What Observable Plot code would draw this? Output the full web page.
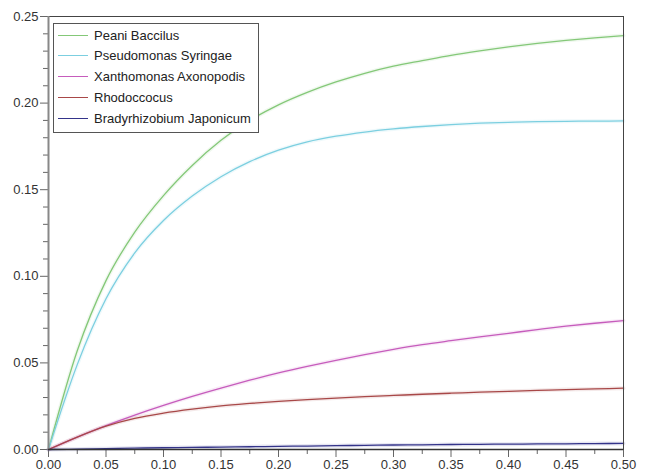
<!DOCTYPE html>
<html>
<head>
<meta charset="utf-8">
<script src="https://cdn.jsdelivr.net/npm/d3@7"></script>
<script src="https://cdn.jsdelivr.net/npm/@observablehq/plot@0.6"></script>
<style>
  body { margin: 0; background: #fff; }
  #wrap { position: relative; width: 647px; height: 472px; font-family: "Liberation Sans", Arial, sans-serif; }
  #legend { position: absolute; left: 53px; top: 23px; width: 206px; height: 110px; border: 1px solid #555; background: #fff; box-sizing: border-box; }
  .row { position: absolute; left: 0; height: 16px; display: flex; align-items: center; font-size: 13px; color: #222; white-space: nowrap; }
  .sw { display: inline-block; width: 30px; height: 0; border-top: 1.5px solid; margin-left: 4px; margin-right: 6px; }
</style>
</head>
<body>
<div id="wrap"><div id="chart"></div><div id="legend"></div></div>
<script>
const xs = [0, 0.025, 0.05, 0.075, 0.1, 0.125, 0.15, 0.175, 0.2, 0.225, 0.25, 0.275, 0.3, 0.325, 0.35, 0.375, 0.4, 0.425, 0.45, 0.475, 0.5];

const seriesNames = ["Peani Baccilus", "Pseudomonas Syringae", "Xanthomonas Axonopodis", "Rhodoccocus", "Bradyrhizobium Japonicum"];
const seriesColors = ["#84c878", "#7ccfe0", "#c65cbc", "#a84848", "#34348a"];

const peani = [0, 0.057, 0.0975, 0.1255, 0.1466, 0.1640, 0.1785, 0.1900, 0.1990, 0.2062, 0.2122, 0.2172, 0.2213, 0.2245, 0.2276, 0.2302, 0.2325, 0.2345, 0.2362, 0.2377, 0.2390];
const pseudomonas = [0, 0.049, 0.0870, 0.1135, 0.1322, 0.1463, 0.1575, 0.1662, 0.1728, 0.1776, 0.1809, 0.1833, 0.1851, 0.1865, 0.1876, 0.1884, 0.1889, 0.1893, 0.1895, 0.1896, 0.1897];
const xanthomonas = [0, 0.0072, 0.0138, 0.0199, 0.0255, 0.0307, 0.0355, 0.0400, 0.0442, 0.0480, 0.0515, 0.0548, 0.0578, 0.0605, 0.0628, 0.0650, 0.0671, 0.0692, 0.0712, 0.0729, 0.0744];
const rhodoccocus = [0, 0.0072, 0.0135, 0.0180, 0.0210, 0.0233, 0.0252, 0.0266, 0.0278, 0.0288, 0.0297, 0.0305, 0.0312, 0.0319, 0.0325, 0.0331, 0.0336, 0.0341, 0.0346, 0.0350, 0.0354];
const bradyrhizobium = [0, 0.0002, 0.0005, 0.0008, 0.0010, 0.0012, 0.0014, 0.0016, 0.0018, 0.0020, 0.0022, 0.0024, 0.0026, 0.0027, 0.0029, 0.0030, 0.0031, 0.0032, 0.0033, 0.0034, 0.0035];

const xMajorTicks = [0, 0.05, 0.1, 0.15, 0.2, 0.25, 0.3, 0.35, 0.4, 0.45, 0.5];
const xMinorTicks = [0.025, 0.075, 0.125, 0.175, 0.225, 0.275, 0.325, 0.375, 0.425, 0.475];
const yMajorTicks = [0, 0.05, 0.1, 0.15, 0.2, 0.25];
const yMinorTicks = [0.01, 0.02, 0.03, 0.04, 0.06, 0.07, 0.08, 0.09, 0.11, 0.12, 0.13, 0.14, 0.16, 0.17, 0.18, 0.19, 0.21, 0.22, 0.23, 0.24];

const allSeries = [peani, pseudomonas, xanthomonas, rhodoccocus, bradyrhizobium];
const rows = [];
allSeries.forEach((vals, i) => vals.forEach((v, j) => rows.push({x: xs[j], y: v, series: seriesNames[i]})));

const fmt = d3.format(".2f");
const chart = Plot.plot({
  width: 647,
  height: 472,
  marginLeft: 48,
  marginRight: 24,
  marginTop: 16,
  marginBottom: 23,
  style: {fontFamily: "'Liberation Sans', Arial, sans-serif", fontSize: "13px", color: "#333", background: "#fff"},
  x: {domain: [0, 0.5]},
  y: {domain: [0, 0.25]},
  color: {domain: seriesNames, range: seriesColors},
  marks: [
    Plot.axisX({ticks: xMajorTicks, tickSize: 8, tickPadding: 2, tickFormat: fmt, label: null, stroke: "#666"}),
    Plot.axisX({ticks: xMinorTicks, tickSize: 5, tickFormat: () => "", label: null, stroke: "#666"}),
    Plot.axisY({ticks: yMajorTicks, tickSize: 8, tickPadding: 2, tickFormat: fmt, label: null, stroke: "#666"}),
    Plot.axisY({ticks: yMinorTicks, tickSize: 5, tickFormat: () => "", label: null, stroke: "#666"}),
    Plot.line(rows, {x: "x", y: "y", z: "series", stroke: "series", strokeWidth: 4, strokeOpacity: 0.12, curve: "monotone-x"}),
    Plot.line(rows, {x: "x", y: "y", z: "series", stroke: "series", strokeWidth: 1.3, curve: "monotone-x"}),
    Plot.frame({stroke: "#444"}),
    Plot.ruleX([0], {stroke: "#888", strokeWidth: 2}),
    Plot.ruleY([0], {stroke: "#333", strokeWidth: 1.5})
  ]
});
document.getElementById("chart").appendChild(chart);

const legend = document.getElementById("legend");
seriesNames.forEach((name, i) => {
  const row = document.createElement("div");
  row.className = "row";
  row.style.top = (3 + i * 20.8) + "px";
  const sw = document.createElement("span");
  sw.className = "sw";
  sw.style.borderTopColor = seriesColors[i];
  row.appendChild(sw);
  row.appendChild(document.createTextNode(name));
  legend.appendChild(row);
});
</script>
</body>
</html>
